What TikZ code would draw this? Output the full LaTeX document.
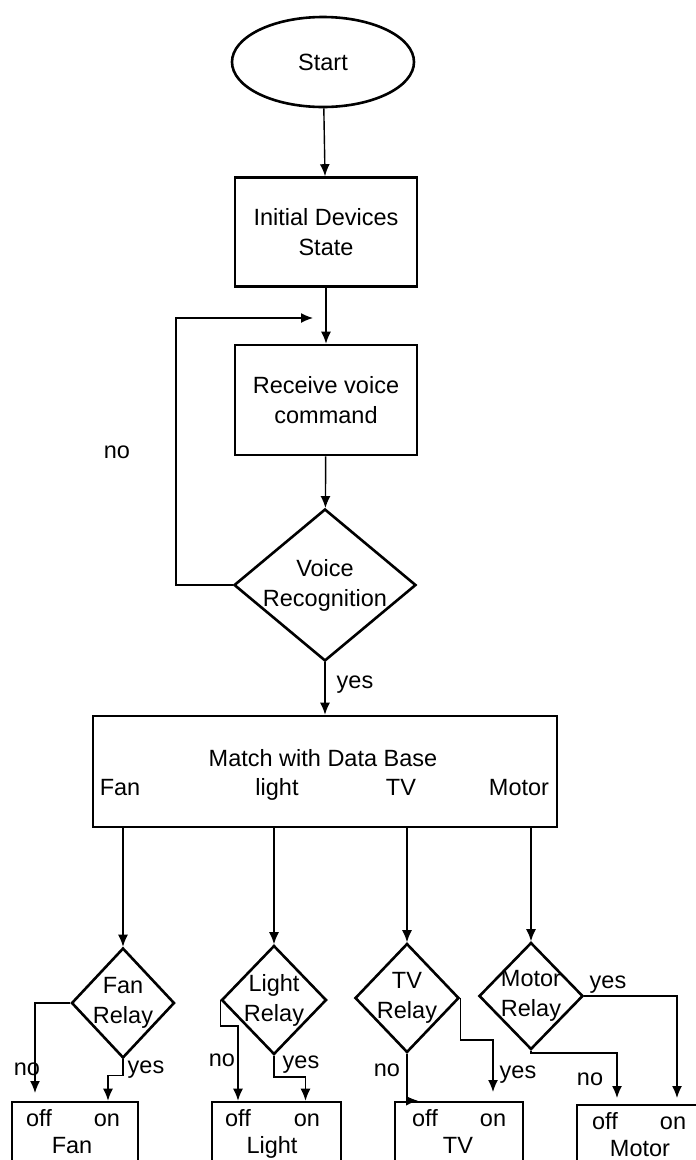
\documentclass[tikz,border=0pt]{standalone}
\usepackage{fontspec}
\setmainfont{Liberation Sans}
\usetikzlibrary{shapes.geometric,arrows.meta}
\tikzstyle{every node}=[font=\fontsize{23.5}{30}\selectfont,inner sep=0pt]
\tikzstyle{txt}=[text height=17pt,text depth=5pt]
\tikzstyle{blk}=[draw,line width=2.6pt,rectangle,align=center]
\tikzstyle{dec}=[draw,line width=2.6pt,diamond,align=center,inner sep=-12pt]
\tikzstyle{arr}=[line width=1.4pt,-{Latex[length=12pt,width=10pt]}]

\begin{document}
\begin{tikzpicture}[x=1pt,y=-1pt]
    \useasboundingbox (0,0) rectangle (696,1160);
    \node[draw,line width=2.6pt,ellipse,minimum width=182pt,minimum height=90pt] (start) at (323,62) {Start};
    \node[blk,minimum width=182pt,minimum height=109pt] (init) at (326,232) {Initial Devices\\State};
    \node[blk,minimum width=182pt,minimum height=110pt] (recv) at (326,400) {Receive voice\\command};
    \node[dec,minimum width=182pt,minimum height=152pt] (recog) at (325,585) {Voice\\Recognition};
    \node[blk,minimum width=464pt,minimum height=111pt] (db) at (325,771.5) {};
    \node[txt] (dbt) at (323,760) {Match with Data Base};
    \node[txt] (dfan) at (120,789) {Fan};
    \node[txt] (dlight) at (277,789) {light};
    \node[txt] (dtv) at (401,789) {TV};
    \node[txt] (dmot) at (519,789) {Motor};
    % relays
    \node[dec,minimum width=103pt,minimum height=110pt] (fanD) at (123,1003) {Fan\\Relay};
    \node[dec,minimum width=105pt,minimum height=109pt] (lightD) at (274,1000) {Light\\Relay};
    \node[dec,minimum width=104pt,minimum height=109pt] (tvD) at (407,998) {TV\\Relay};
    \node[dec,minimum width=104pt,minimum height=107pt] (motD) at (531,996) {Motor\\Relay};
    % outputs
    \node[blk,minimum width=126pt,minimum height=80pt] (fanB) at (75,1142) {};
    \node[blk,minimum width=129pt,minimum height=80pt] (lightB) at (276.5,1142) {};
    \node[blk,minimum width=128pt,minimum height=80pt] (tvB) at (459,1142) {};
    \node[blk,minimum width=128pt,minimum height=80pt] (motB) at (641,1145) {};
    \node[txt] (fanOff) at (39,1120) {off};  \node[txt] (fanOn) at (107,1120) {on};  \node[txt] (fanT) at (72,1147) {Fan};
    \node[txt] (lightOff) at (238,1120) {off}; \node[txt] (lightOn) at (307,1120) {on}; \node[txt] (lightT) at (272,1147) {Light};
    \node[txt] (tvOff) at (425,1120) {off}; \node[txt] (tvOn) at (493,1120) {on}; \node[txt] (tvT) at (458,1147) {TV};
    \node[txt] (motOff) at (605,1123) {off}; \node[txt] (motOn) at (673,1123) {on}; \node[txt] (motT) at (640,1150) {Motor};
    % labels
    \node[txt] (noA) at (117,452) {no};
    \node[txt] (yesA) at (355,682) {yes};
    \node[txt] (noF) at (27,1069) {no};   \node[txt] (yesF) at (146,1067) {yes};
    \node[txt] (noL) at (222,1060) {no};  \node[txt] (yesL) at (301,1062) {yes};
    \node[txt] (noT) at (387,1070) {no};  \node[txt] (yesT) at (518,1072) {yes};
    \node[txt] (noM) at (590,1079) {no};  \node[txt] (yesM) at (608,982) {yes};
    \coordinate (loop) at (313,318);
    \coordinate (fanNo) at (35,1093);
    \coordinate (tvYes) at (493,1092);
    \coordinate (motYes) at (677,1098);
    \coordinate (motNo) at (617,1098);
    % connectors
    \draw[arr] (start) -- (init);
    \draw[arr] (init) -- (recv);
    \draw[arr] (recv) -- (recog);
    \draw[arr] (recog.west) -- (176,585) |- (loop);
    \draw[arr] (recog) -- (db);
    \foreach \d in {fanD,lightD,tvD,motD}
      \draw[arr] (\d.north |- db.south) -- (\d.north);
    \draw[arr] (fanD.west) -| (fanNo);
    \draw[arr] (fanD.south) -- ++(0,16) -| ([xshift=33pt]fanB.north);
    \draw[arr] (lightD.west) -- ++(0,26) -| ([xshift=-38.5pt]lightB.north);
    \draw[arr] (lightD.south) -- ++(0,21) -| ([xshift=29pt]lightB.north);
    \draw[arr] (tvD.south) -- (tvD.south |- tvB.north) -- ++(11,0);
    \draw[arr] (tvD.east) -- ++(0,42) -| (tvYes);
    \draw[arr] (motD.east) -| (motYes);
    \draw[arr] (motD.south) -- ++(0,2) -| (motNo);
  \end{tikzpicture}
\end{document}
